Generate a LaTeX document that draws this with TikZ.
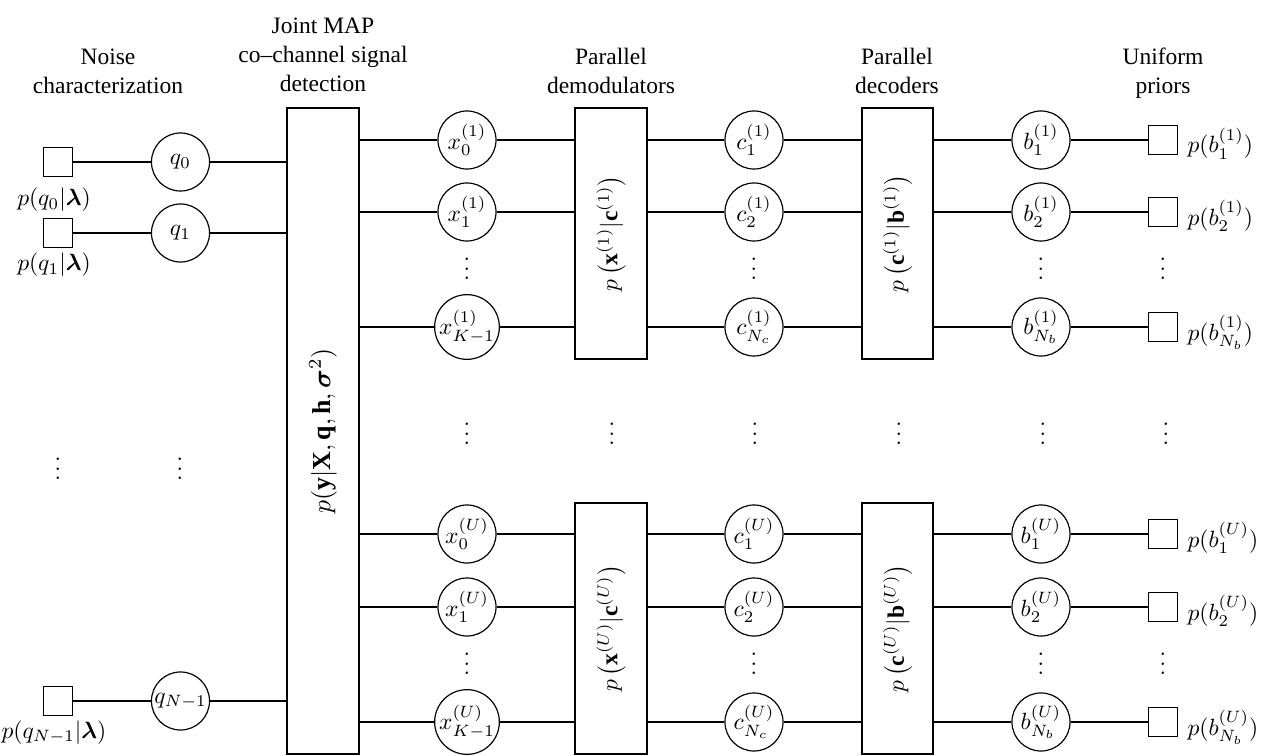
\documentclass[tikz,border=0pt]{standalone}
\usepackage{amsmath}
\usepackage{fontspec}
\setmainfont{Liberation Serif}
\newcommand\tightvdots{\vbox{\baselineskip4pt\lineskiplimit0pt\hbox{$.$}\hbox{$.$}\hbox{$.$}}}
\begin{document}
\begin{tikzpicture}[x=0.4255pt,y=-0.4255pt,line width=0.5pt,
  var/.style={circle,draw,minimum size=24.7pt,inner sep=0pt},
  fac/.style={rectangle,draw,minimum size=12.3pt,inner sep=0pt},
  bigfac/.style={rectangle,draw,inner sep=0pt,minimum width=30.6pt},
  ttl/.style={anchor=base,inner sep=0pt},
  lbl/.style={inner sep=0pt},
  dts/.style={inner sep=0pt}]
\useasboundingbox (0,0) rectangle (1263,756);

% titles
\node[ttl] (t1a) at (108,65) {Noise};
\node[ttl] (t1b) at (108,94) {characterization};
\node[ttl] (t2a) at (323,34) {Joint MAP};
\node[ttl] (t2b) at (323,63) {co–channel signal};
\node[ttl] (t2c) at (323,92) {detection};
\node[ttl] (t3a) at (611,65) {Parallel};
\node[ttl] (t3b) at (611,94) {demodulators};
\node[ttl] (t4a) at (897,65) {Parallel};
\node[ttl] (t4b) at (897,94) {decoders};
\node[ttl] (t5a) at (1163,65) {Uniform};
\node[ttl] (t5b) at (1163,94) {priors};

% big factor boxes
\node[bigfac,minimum height=274.9pt] (J) at (323,431) {};
\node[rotate=90,scale=1.1,lbl] (Jl) at (J.center) {$p(\mathbf{y}|\mathbf{X},\mathbf{q},\mathbf{h},\boldsymbol{\sigma}^2)$};
\node[bigfac,minimum height=106.8pt] (D1) at (611,233.5) {};
\node[bigfac,minimum height=106.8pt] (D2) at (611,628.5) {};
\node[bigfac,minimum height=106.8pt,minimum width=30.2pt] (E1) at (897.5,233.5) {};
\node[bigfac,minimum height=106.8pt,minimum width=30.2pt] (E2) at (897.5,628.5) {};
\node[rotate=90,lbl] (D1l) at (D1.center) {$p\left(\mathbf{x}^{(1)}|\mathbf{c}^{(1)}\right)$};
\node[rotate=90,lbl] (D2l) at (D2.center) {$p\left(\mathbf{x}^{(U)}|\mathbf{c}^{(U)}\right)$};
\node[rotate=90,lbl] (E1l) at (E1.center) {$p\left(\mathbf{c}^{(1)}|\mathbf{b}^{(1)}\right)$};
\node[rotate=90,lbl] (E2l) at (E2.center) {$p\left(\mathbf{c}^{(U)}|\mathbf{b}^{(U)}\right)$};

% noise part
\node[fac] (L0) at (58,162) {};
\node[fac] (L1) at (58,233) {};
\node[fac] (LN) at (58,701) {};
\node[var] (Q0) at (180.5,162) {$q_0$};
\node[var] (Q1) at (180.5,233) {$q_1$};
\node[var] (QN) at (180.5,701) {$q_{N-1}$};
\node[anchor=base,lbl] (L0l) at (54,206) {$p(q_0|\boldsymbol{\lambda})$};
\node[anchor=base,lbl] (L1l) at (54,271) {$p(q_1|\boldsymbol{\lambda})$};
\node[anchor=base,lbl] (LNl) at (54,738) {$p(q_{N-1}|\boldsymbol{\lambda})$};
\foreach \a in {0,1,N}{
  \draw (L\a) -- (Q\a);
  \draw (Q\a) -- (Q\a -| J.west);
}

% user groups
\foreach \G/\grp/\B/\ya/\yb/\yc in {T/1/1/140/212/327, U/U/2/534/607/722}{
  \foreach \n/\y/\xs/\cs/\bs in {a/\ya/0/1/1, b/\yb/1/2/2, c/\yc/K-1/N_c/N_b}{
    \pgfmathsetmacro\yl{\y+13}
    \node[var] (X\G\n) at (467,\y) {$x_{\xs}^{(\grp)}$};
    \node[var] (C\G\n) at (754,\y) {$c_{\cs}^{(\grp)}$};
    \node[var] (B\G\n) at (1041,\y) {$b_{\bs}^{(\grp)}$};
    \node[fac] (R\G\n) at (1163,\y) {};
    \node[anchor=base west,lbl] (R\G\n l) at (1187,\yl) {$p(b_{\bs}^{(\grp)})$};
    \draw (J.east |- X\G\n) -- (X\G\n);
    \draw (X\G\n) -- (X\G\n -| D\B.west);
    \draw (D\B.east |- C\G\n) -- (C\G\n);
    \draw (C\G\n) -- (C\G\n -| E\B.west);
    \draw (E\B.east |- B\G\n) -- (B\G\n);
    \draw (B\G\n) -- (R\G\n);
  }
}

% dots
\foreach \x/\k in {467/1,754/2,1041/3,1163/4}{
  \node[dts] (dT\k) at (\x,269) {\tightvdots};
  \node[dts] (dU\k) at (\x,664) {\tightvdots};
}
\foreach \x/\k in {467/1,612/2,755/3,899/4,1043/5,1166/6}{
  \node[dts] (dM\k) at (\x,434) {\tightvdots};
}
\node[dts] (dL1) at (58,469) {\tightvdots};
\node[dts] (dL2) at (180,469) {\tightvdots};
\end{tikzpicture}
\end{document}
